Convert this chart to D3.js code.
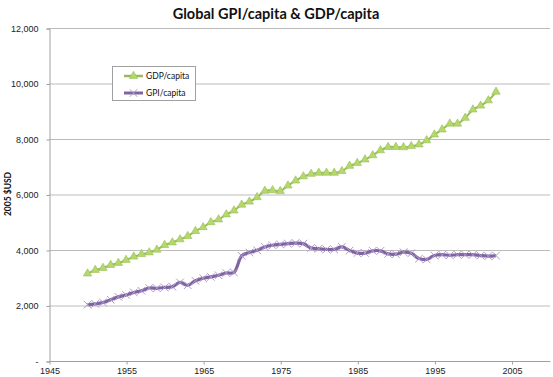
<!DOCTYPE html>
<html><head><meta charset="utf-8">
<script src="https://cdn.jsdelivr.net/npm/d3@7"></script>
<style>
html,body{margin:0;padding:0;background:#fff;}
svg{display:block;font-family:Lato, "Open Sans", sans-serif;}
</style></head>
<body><svg id="c" width="553" height="377"></svg>
<script>
const years = [1950,1951,1952,1953,1954,1955,1956,1957,1958,1959,
  1960,1961,1962,1963,1964,1965,1966,1967,1968,1969,
  1970,1971,1972,1973,1974,1975,1976,1977,1978,1979,
  1980,1981,1982,1983,1984,1985,1986,1987,1988,1989,
  1990,1991,1992,1993,1994,1995,1996,1997,1998,1999,
  2000,2001,2002,2003];
const gdpPerCapita = [3150,3280,3350,3460,3530,3640,3760,3850,3910,4010,
  4180,4270,4380,4500,4680,4820,5000,5100,5280,5420,
  5630,5740,5900,6130,6150,6120,6320,6500,6650,6740,
  6780,6780,6780,6840,7030,7130,7260,7410,7590,7710,
  7710,7700,7740,7800,7950,8160,8340,8550,8550,8760,
  9060,9200,9390,9700];
const gpiPerCapita = [2030,2060,2110,2210,2310,2380,2470,2530,2630,2620,
  2650,2680,2830,2730,2890,2980,3030,3090,3170,3190,
  3790,3910,3990,4110,4170,4200,4230,4250,4230,4070,
  4050,4020,4020,4110,3980,3890,3890,3970,3970,3860,
  3850,3920,3880,3690,3660,3800,3830,3810,3830,3830,
  3830,3800,3780,3800];
const xTicks = [1945,1955,1965,1975,1985,1995,2005];
const yTicks = [0,2000,4000,6000,8000,10000,12000];
const seriesNames = ["GDP/capita","GPI/capita"];
const title = "Global GPI/capita & GDP/capita";
const yTitle = "2005 $USD";

const svg = d3.select("#c");
const x = d3.scaleLinear().domain([1945,2010]).range([49,550]);
const y = d3.scaleLinear().domain([0,12000]).range([361,28]);

svg.append("g").selectAll("line").data(yTicks.filter(d=>d>0)).join("line")
  .attr("x1",x(1945)).attr("x2",x(2010))
  .attr("y1",d=>y(d)+0.5).attr("y2",d=>y(d)+0.5)
  .attr("stroke","#bcbcbc").attr("stroke-width",1);

const yAxis = d3.axisLeft(y).tickValues(yTicks).tickSize(3).tickPadding(8)
  .tickFormat(d=> d===0 ? "-" : d3.format(",")(d));
const gy = svg.append("g").attr("transform",`translate(${x(1945)+0.5},0.5)`).call(yAxis);
gy.select(".domain").attr("stroke","#a0a0a0");
gy.selectAll(".tick line").attr("stroke","#a0a0a0");
gy.selectAll("text").attr("font-size","9px").attr("fill","#222");

const xAxis = d3.axisBottom(x).tickValues(xTicks).tickSize(3).tickPadding(3).tickFormat(d3.format("d"));
const gx = svg.append("g").attr("transform",`translate(0.5,${y(0)+0.5})`).call(xAxis);
gx.select(".domain").attr("stroke","#a0a0a0").attr("d",`M${x(1945)},0H${x(2010)}`);
gx.selectAll(".tick line").attr("stroke","#a0a0a0");
gx.selectAll("text").attr("font-size","9px").attr("fill","#222");

svg.append("text").attr("x",276).attr("y",19).attr("text-anchor","middle")
  .attr("font-size","14.5px").attr("font-weight","bold").attr("fill","#111").text(title);
svg.append("text").attr("transform","translate(11,194) rotate(-90)").attr("text-anchor","middle")
  .attr("font-size","8.5px").attr("font-weight","bold").attr("fill","#111").text(yTitle);

const curve = d3.curveCatmullRom.alpha(0.5);
const gdpData = years.map((yr,i)=>({yr, v:gdpPerCapita[i]}));
const gpiData = years.map((yr,i)=>({yr, v:gpiPerCapita[i]}));
const line = d3.line().x(d=>x(d.yr)).y(d=>y(d.v)).curve(curve);

const triPath = d3.symbol().type(d3.symbolTriangle).size(30)();
const xPath = "M-3.8,-3.8L3.8,3.8M-3.8,3.8L3.8,-3.8";

svg.append("path").datum(gdpData).attr("d",line).attr("fill","none")
  .attr("stroke","#9bbb59").attr("stroke-width",2);
svg.append("g").selectAll("path").data(gdpData).join("path")
  .attr("transform",d=>`translate(${x(d.yr)},${y(d.v)})`).attr("d",triPath)
  .attr("fill","#b3d86b").attr("stroke","#98bd55").attr("stroke-width",0.6);

svg.append("path").datum(gpiData).attr("d",line).attr("fill","none")
  .attr("stroke","#8064a2").attr("stroke-width",3.2);
svg.append("g").selectAll("path").data(gpiData).join("path")
  .attr("transform",d=>`translate(${x(d.yr)},${y(d.v)})`).attr("d",xPath)
  .attr("fill","none").attr("stroke","#ad9bcc").attr("stroke-width",1);

const lg = svg.append("g");
lg.append("rect").attr("x",112.5).attr("y",66.5).attr("width",83).attr("height",34)
  .attr("fill","#fff").attr("stroke","#a0a0a0").attr("stroke-width",1);
const legendRows = [
  {name:seriesNames[0], color:"#9bbb59", w:2.5, marker:triPath, fill:"#b3d86b", mstroke:"#98bd55"},
  {name:seriesNames[1], color:"#8064a2", w:3, marker:xPath, fill:"none", mstroke:"#ad9bcc"}
];
legendRows.forEach((r,i)=>{
  const cy = 76 + i*17;
  lg.append("line").attr("x1",124).attr("x2",143).attr("y1",cy).attr("y2",cy)
    .attr("stroke",r.color).attr("stroke-width",r.w);
  lg.append("path").attr("transform",`translate(133.5,${cy})`).attr("d",r.marker)
    .attr("fill",r.fill).attr("stroke",r.mstroke).attr("stroke-width",i===0?0.6:1);
  lg.append("text").attr("x",146).attr("y",cy+3).attr("font-size","8.5px").attr("fill","#111").text(r.name);
});
</script></body></html>
